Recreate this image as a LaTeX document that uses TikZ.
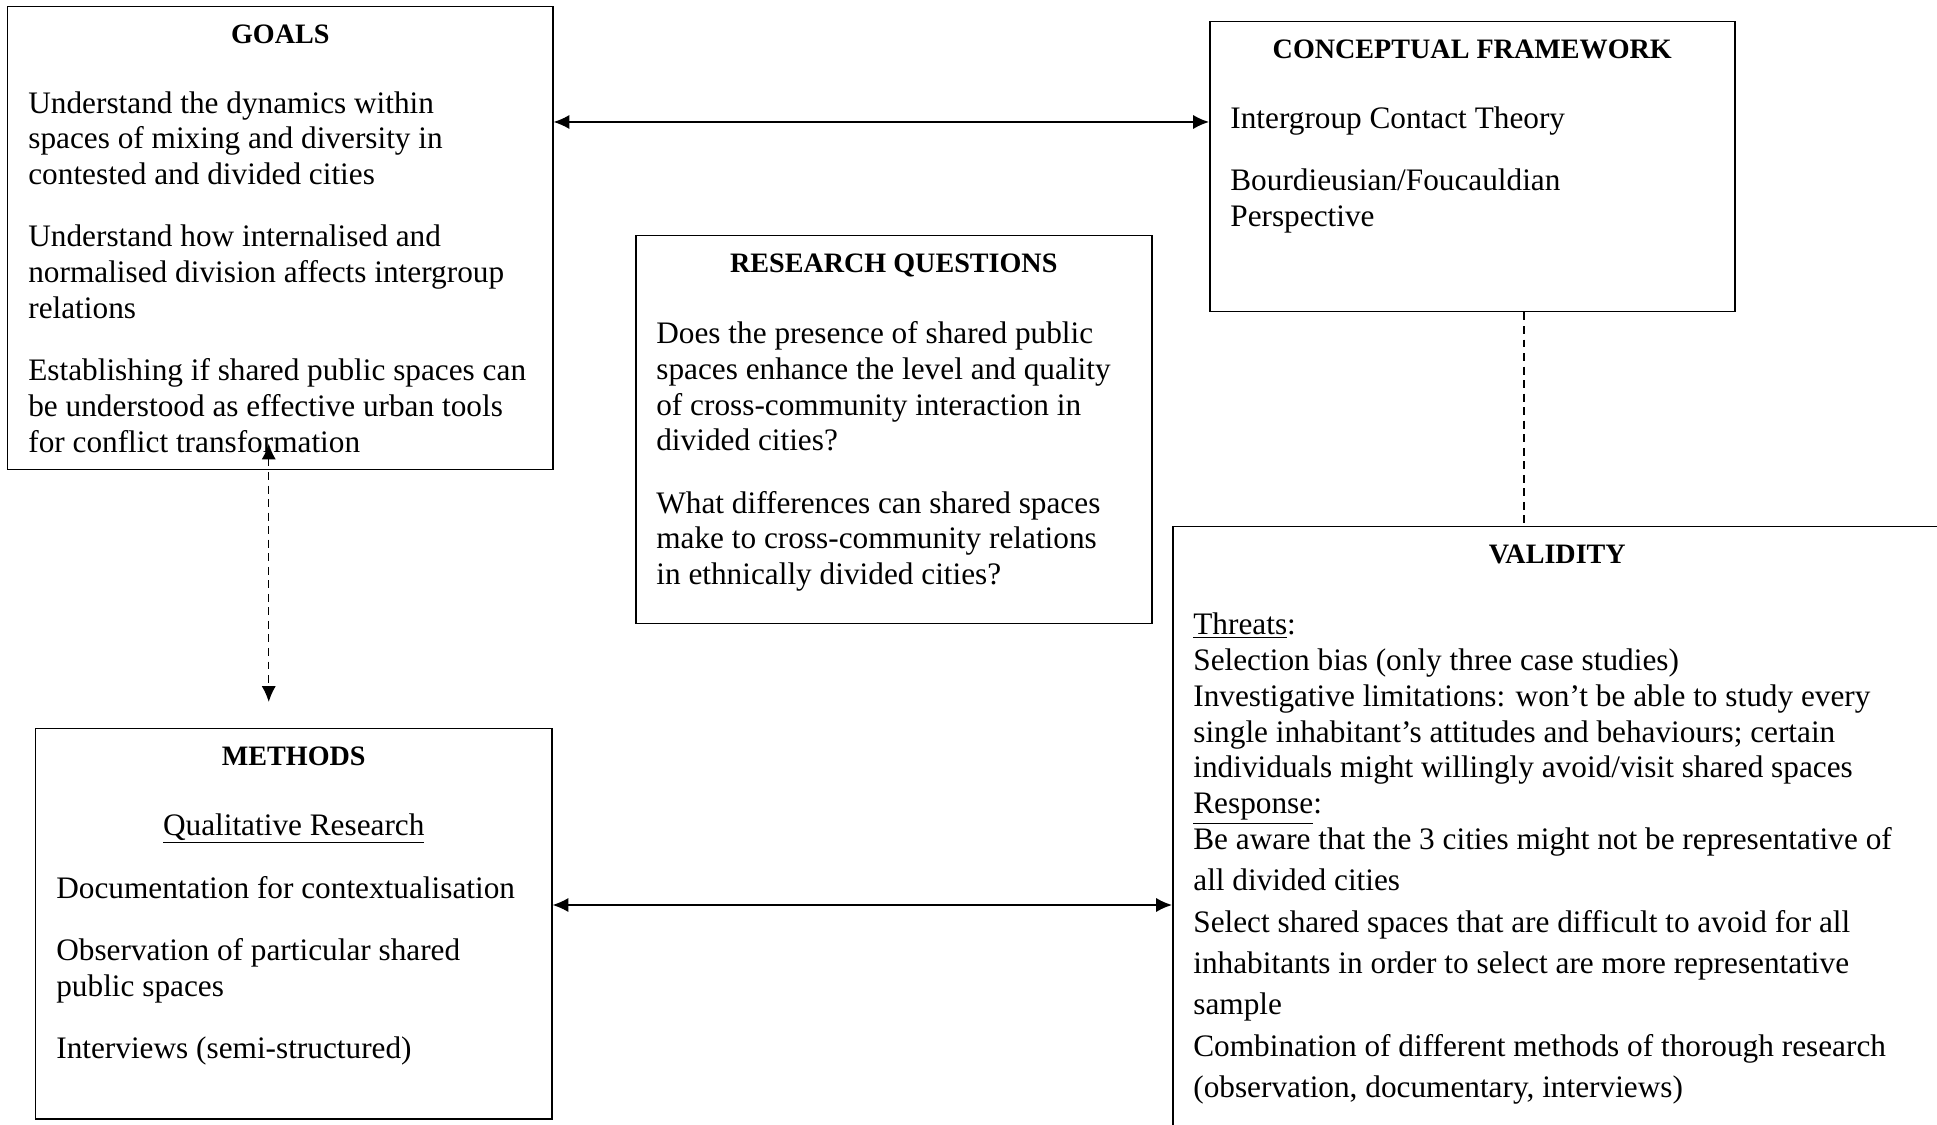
\documentclass[tikz,border=0pt]{standalone}
\usepackage{fontspec}
\setmainfont{Liberation Serif}
\usepackage{tikz}
\usetikzlibrary{shapes,arrows,arrows.meta,positioning,calc}

\begin{document}
\begin{tikzpicture}[
	box/.style={draw, rectangle, line width=0.85pt, anchor=north west, inner sep=0pt},
	head/.style={inner sep=0pt, font=\fontsize{16}{19}\selectfont\bfseries},
	body/.style={inner sep=0pt, align=left, font=\fontsize{17.8}{20.4}\selectfont},
	link/.style={<->, >={Latex[length=9pt,width=8pt]}, line width=0.85pt},
	dashlink/.style={dashed, dash pattern=on 4.5pt off 3.2pt, line width=0.85pt}
]
	\useasboundingbox (0,0) rectangle (38.74,-22.5);
	\clip (0,0) rectangle (38.74,-22.5);

	% the five boxes
	\node[box, minimum width=10.90cm, minimum height=9.26cm] (goals) at (0.14,-0.12) {};
	\node[box, minimum width=10.50cm, minimum height=5.80cm] (cf) at (24.18,-0.42) {};
	\node[box, minimum width=10.32cm, minimum height=7.76cm] (rq) at (12.70,-4.70) {};
	\node[box, minimum width=10.32cm, minimum height=7.80cm] (methods) at (0.70,-14.56) {};
	\node[box, minimum width=15.38cm, minimum height=12.40cm] (valid) at (23.44,-10.52) {};

	% headings
	\node[head, below=0.38cm of goals.north] (goalsT) {GOALS};
	\node[head, below=0.38cm of cf.north] (cfT) {CONCEPTUAL FRAMEWORK};
	\node[head, below=0.38cm of rq.north] (rqT) {RESEARCH QUESTIONS};
	\node[head, below=0.38cm of methods.north] (methodsT) {METHODS};
	\node[head, below=0.38cm of valid.north] (validT) {VALIDITY};

	% contents
	\node[body, below right=1.70cm and 0.42cm of goals.north west] (goalsB) {Understand the dynamics within\\
		spaces of mixing and diversity in\\
		contested and divided cities\\[15pt]
		Understand how internalised and\\
		normalised division affects intergroup\\
		relations\\[15pt]
		Establishing if shared public spaces can\\
		be understood as effective urban tools\\
		for conflict transformation};
	\node[body, below right=1.70cm and 0.42cm of cf.north west] (cfB) {Intergroup Contact Theory\\[15pt]
		Bourdieusian/Foucauldian\\
		Perspective};
	\node[body, below right=1.72cm and 0.42cm of rq.north west] (rqB) {Does the presence of shared public\\
		spaces enhance the level and quality\\
		of cross-community interaction in\\
		divided cities?\\[15pt]
		What differences can shared spaces\\
		make to cross-community relations\\
		in ethnically divided cities?};
	\node[body, below=1.70cm of methods.north] (methodsQ) {\underline{Qualitative Research}};
	\node[body, below right=2.96cm and 0.42cm of methods.north west] (methodsB) {Documentation for contextualisation\\[15pt]
		Observation of particular shared\\
		public spaces\\[15pt]
		Interviews (semi-structured)};
	\node[body, below right=1.73cm and 0.42cm of valid.north west] (validB) {\underline{Threats}:\\
		Selection bias (only three case studies)\\
		Investigative limitations: won’t be able to study every\\
		single inhabitant’s attitudes and behaviours; certain\\
		individuals might willingly avoid/visit shared spaces\\
		\underline{Response}:\\
		Be aware that the 3 cities might not be representative of\\[3.1pt]
		all divided cities\\[3.1pt]
		Select shared spaces that are difficult to avoid for all\\[3.1pt]
		inhabitants in order to select are more representative\\[3.1pt]
		sample\\[3.1pt]
		Combination of different methods of thorough research\\[3.1pt]
		(observation, documentary, interviews)};

	% connectors
	\coordinate (upY) at (0,-2.44);
	\coordinate (lowY) at (0,-18.10);
	\coordinate (cvX) at (30.48,0);
	\coordinate (gTip) at ($(goals.south)+(-0.23,0.54)$);
	\coordinate (mTip) at ($(methods.north)+(-0.50,0.52)$);
	\draw[link] (goals.east |- upY) -- (cf.west |- upY);
	\draw[link] (methods.east |- lowY) -- (valid.west |- lowY);
	\draw[link, dashlink] (gTip) -- (mTip);
	\draw[dashlink] (cf.south -| cvX) -- (valid.north -| cvX);
\end{tikzpicture}
\end{document}
